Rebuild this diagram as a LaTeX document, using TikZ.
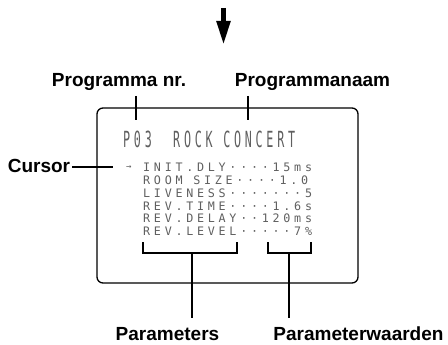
\documentclass[tikz,border=0pt]{standalone}
\usepackage{fontspec}
\setmainfont{Liberation Sans}
\newfontfamily\lcdfont[LetterSpace=32]{DejaVu Sans Mono}
\usetikzlibrary{arrows.meta,positioning}
\definecolor{lcdgray}{RGB}{95,95,95}
% one blank character cell of the display
\newcommand\lcdsp{\hspace*{10.7pt}}

\begin{document}
\begin{tikzpicture}[x=1pt,y=-1pt,
  every node/.style={inner sep=0pt},
  callout/.style={font=\fontsize{19}{21}\selectfont\bfseries, anchor=base},
  lcd/.style={font=\fontsize{11.7}{12}\lcdfont, text=lcdgray, anchor=base west},
  lead/.style={line width=2pt},
  frame/.style={draw, line width=1.3pt, rounded corners=6pt}
]
\useasboundingbox (0,0) rectangle (448,345);

% Arrow from the previous step
\coordinate (arrtop) at (223.5,8);
\coordinate (arrtip) at (223.5,45);
\draw[line width=5pt,-{Triangle[width=13pt,length=24pt]}] (arrtop) -- (arrtip);

% Display frame
\node[frame, minimum width=261pt, minimum height=175pt] (display) at (227.5,195.5) {};

% Display contents
\node[lcd] (pname) at (123,148) {\scalebox{1}[1.9]{P03\lcdsp\lcdsp ROCK\lcdsp CONCERT}};
\node[lcd, font=\fontsize{9}{9}\lcdfont] (cursarrow) at (126,170) {→};
\foreach \i/\row in {0/INIT.DLY····15ms, 1/ROOM\lcdsp SIZE····1.0,
                     2/LIVENESS·······5, 3/REV.TIME····1.6s,
                     4/REV.DELAY··120ms, 5/REV.LEVEL·····7\%}
  \node[lcd] (row\i) at (143,{171.7+12.8*\i}) {\row};

% Callout labels
\node[callout] (nrlbl)   at (119,87)   {Programma nr.};
\node[callout] (namelbl) at (312.5,87) {Programmanaam};
\node[callout] (curlbl)  at (39,172)   {Cursor};
\node[callout] (parlbl)  at (167.5,340) {Parameters};
\node[callout] (vallbl)  at (358.5,340) {Parameterwaarden};

% Leader lines
\coordinate (nrtop) at (136,96);    \coordinate (nrbot) at (136,120);
\coordinate (nametop) at (248,96);  \coordinate (namebot) at (248,120);
\coordinate (curstart) at (72,167); \coordinate (curend) at (113,167);
\draw[lead] (nrtop) -- (nrbot);
\draw[lead] (nametop) -- (namebot);
\draw[lead] (curstart) -- (curend);

% Brackets under the parameter list
\coordinate (parL) at (143,242);  \coordinate (parR) at (237,242);
\coordinate (parmid) at (192,252.5); \coordinate (parend) at (192,318);
\coordinate (valL) at (268,242);  \coordinate (valR) at (311,242);
\coordinate (valmid) at (289,252.5); \coordinate (valend) at (289,318);
\draw[lead] (parL) -- (parL |- parmid) -- (parR |- parmid) -- (parR);
\draw[lead] (valL) -- (valL |- valmid) -- (valR |- valmid) -- (valR);
\draw[lead] (parmid) -- (parend);
\draw[lead] (valmid) -- (valend);
\end{tikzpicture}
\end{document}
